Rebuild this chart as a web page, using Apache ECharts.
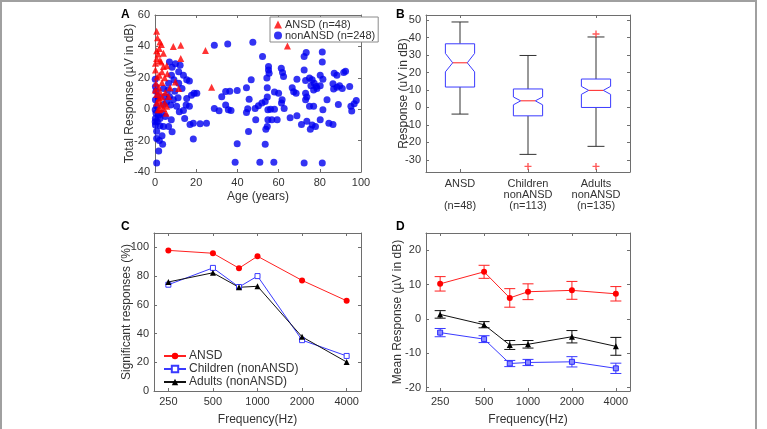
<!DOCTYPE html>
<html>
<head>
<meta charset="utf-8">
<script src="https://cdn.jsdelivr.net/npm/echarts@6/dist/echarts.min.js"></script>
<style>
    html, body { margin: 0; padding: 0; background: #fff; }
    #main { width: 767px; height: 429px; }
</style>
</head>
<body>
<div id="main"></div>
<script>
// ---- panel A: age vs total response ----
var ansdPoints = [
    [0.8, 49.6], [2.4, 42.8], [3.1, 41.2], [2.1, 38.6], [0.8, 37.3], [1.5, 35.2], [0.8, 32.3], [2.4, 31.0],
    [4.1, 27.2], [5.7, 27.6], [3.4, 23.8], [2.1, 21.7], [4.7, 20.0], [3.4, 17.0], [1.8, 14.0], [7.3, 13.6],
    [2.4, 11.1], [0.8, 9.4], [3.4, 7.7], [2.1, 5.6], [4.7, 3.9], [4.1, 0.5], [2.4, -0.4], [5.4, -2.5],
    [9.9, 17.4], [8.9, 39.9], [12.5, 40.7], [12.5, 32.3], [11.5, 13.2], [24.5, 37.4], [27.5, 14.0], [64.3, 40.3],
    [0.5, 16.6], [0.2, 25.0], [5.0, 10.6], [6.6, 8.1], [0.8, 3.9], [1.5, -0.4], [0.2, 29.3], [4.1, 35.6],
    [0.1, 12.3], [2.1, 7.3], [5.7, 1.8], [1.2, 45.5], [3.0, 30.0], [1.0, 20.5], [2.8, 2.5], [6.0, 22.6]
];
var nonAnsdPoints = [
    [28.8, 40.7], [35.3, 41.6], [47.5, 42.6], [52.2, 33.5], [55.1, 27.2], [55.1, 25.0], [55.4, 22.9], [61.3, 26.1],
    [61.9, 23.3], [54.3, 19.8], [46.7, 18.7], [36.3, 11.5], [34.3, 11.3], [39.9, 11.9], [44.4, 13.6], [54.5, 13.6],
    [58.0, 10.9], [60.0, 10.2], [32.4, 7.9], [34.3, 2.6], [28.8, 0.5], [31.1, -1.0], [35.6, -0.4], [36.9, -0.8],
    [45.7, 6.4], [45.0, 0.3], [44.4, -2.1], [48.6, 0.5], [50.2, 2.2], [51.9, 3.9], [53.5, 4.9], [54.5, 7.7],
    [54.8, -0.4], [56.1, 0.0], [58.0, 0.0], [48.9, -6.7], [54.8, -6.7], [54.5, -11.0], [53.8, -12.7], [56.7, -6.7],
    [59.3, -6.7], [45.4, -14.2], [25.0, -8.9], [39.9, -22.0], [53.5, -22.4], [38.9, -33.8], [50.9, -33.8], [57.7, -33.8],
    [73.4, 36.1], [72.4, 33.5], [81.2, 36.5], [81.2, 30.1], [72.4, 25.0], [68.9, 19.1], [73.1, 18.3], [75.0, 19.8],
    [76.3, 18.7], [77.3, 16.6], [75.7, 14.9], [78.3, 14.5], [77.0, 12.3], [78.6, 13.2], [80.2, 14.9], [80.2, 21.7],
    [81.5, 19.1], [87.0, 22.9], [88.3, 21.6], [89.6, 14.9], [90.9, 13.2], [91.6, 23.3], [92.5, 24.2], [86.4, 16.2],
    [88.3, 14.0], [86.7, 12.8], [94.5, 14.5], [66.6, 13.6], [67.3, 11.1], [68.5, 10.2], [73.1, 10.2], [73.7, 7.7],
    [73.1, 6.0], [75.0, 1.8], [77.0, 1.8], [81.5, -0.4], [83.5, 6.0], [89.0, 3.0], [95.1, 1.8], [97.7, 5.6],
    [96.7, 3.4], [95.5, -1.2], [62.4, 20.8], [61.4, 3.9], [62.7, 0.5], [61.7, 6.0], [68.9, -4.2], [65.6, -5.5],
    [73.7, -7.6], [71.1, -9.7], [76.3, -10.1], [77.9, -11.0], [75.4, -12.7], [80.2, -6.7], [84.4, -8.9], [86.4, -9.7],
    [72.4, -34.3], [81.2, -34.3],
    [7.0, 30.1], [8.3, 26.7], [9.9, 28.9], [12.2, 28.0], [11.5, 23.8], [8.0, 21.7], [13.8, 21.7], [15.4, 18.7],
    [16.7, 17.9], [9.2, 18.7], [6.6, 16.6], [11.5, 16.6], [13.1, 13.2], [9.6, 11.5], [19.0, 10.2], [17.7, 8.9],
    [20.3, 10.2], [7.0, 8.1], [8.9, 6.0], [11.2, 7.3], [15.4, 6.8], [15.1, 2.6], [16.7, 1.8], [7.6, 2.6],
    [10.5, 1.8], [11.8, -1.6], [13.8, -0.8], [14.4, -5.9], [18.6, -8.9], [17.0, -9.7], [21.9, -9.3], [7.9, -6.7],
    [6.6, -11.0], [8.3, -14.4], [4.1, -11.0], [3.4, -16.9], [0.8, -18.6], [2.1, -19.9], [3.7, -22.4], [1.8, -26.6],
    [18.6, -19.0], [0.8, -34.3], [0.2, 14.4], [0.5, 11.5], [1.5, 8.1], [0.2, 6.0], [0.8, 1.8], [0.1, -0.4],
    [0.5, -2.5], [1.8, -3.8], [0.2, -5.9], [1.1, -8.0], [2.4, -5.9], [3.4, -2.5], [5.0, -4.6], [4.1, 3.0],
    [5.7, 4.7], [4.7, 8.1], [6.3, 12.3], [4.1, 13.2], [0.1, 19.1], [0.2, -10.1], [2.4, -10.5], [0.8, -14.0], [0.1, -8.0]
];
var ageTicks = [0, 20, 40, 60, 80, 100];
var totalTicks = [-40, -20, 0, 20, 40, 60];

// ---- panel B: notched box plots ----
var boxGroups = ['ANSD\n\n(n=48)', 'Children\nnonANSD\n(n=113)', 'Adults\nnonANSD\n(n=135)'];
// low whisker, q1, notch low, median, notch high, q3, high whisker
var boxAnsd = [-3.8, 11.7, 20.4, 25.6, 31.0, 36.5, 49.0];
var boxChildren = [-26.9, -4.8, 1.5, 3.8, 6.0, 10.6, 29.8];
var boxAdults = [-22.3, 0.0, 7.5, 9.8, 12.1, 16.3, 40.4];
var boxOutliers = [[1, -33.8], [2, 42.1], [2, -33.8]];
var respTicks = [-30, -20, -10, 0, 10, 20, 30, 40, 50];

// ---- panel C/D: frequency ----
var freqs = [250, 500, 750, 1000, 2000, 4000];
var freqTicks = [250, 500, 1000, 2000, 4000];
var sigAnsd = [97.9, 95.9, 85.5, 93.8, 77.0, 62.8];
var sigChildren = [74.0, 85.7, 72.4, 80.0, 35.4, 24.4];
var sigAdults = [75.9, 82.3, 72.2, 72.9, 37.7, 20.2];
var sigTicks = [0, 20, 40, 60, 80, 100];

var meanAnsd = [10.2, 13.7, 6.1, 7.9, 8.3, 7.3];
var errAnsd = [2.1, 1.9, 2.7, 2.3, 2.6, 2.1];
var meanChildren = [-4.0, -5.9, -13.0, -12.7, -12.5, -14.4];
var errChildren = [1.2, 1.0, 0.9, 0.9, 1.5, 1.5];
var meanAdults = [1.3, -1.7, -7.6, -7.4, -5.2, -8.0];
var errAdults = [1.1, 0.9, 1.3, 1.1, 1.8, 2.6];
var meanTicks = [-20, -10, 0, 10, 20];

var axisColor = '#6e6e6e';
var textColor = '#333';
var fontName = 'Liberation Sans, Arial, sans-serif';

var log2 = function (f) { return Math.log(f) / Math.LN2; };
var freqFmt = function (v) { return String(Math.round(Math.pow(2, v))); };
var fMin = log2(200), fMax = log2(5000);

function valueAxis(grid, pos, min, max, ticks, mirror, extra, fmt) {
    var ax = {
        type: 'value', gridIndex: grid, position: pos, min: min, max: max,
        axisLine: { show: true, onZero: false, lineStyle: { color: axisColor, width: 1 } },
        axisTick: { show: true, inside: true, length: 3, customValues: ticks, lineStyle: { color: axisColor } },
        axisLabel: { show: !mirror, customValues: ticks, color: textColor, fontSize: 11, fontFamily: fontName, margin: 5 },
        splitLine: { show: false }
    };
    if (fmt) ax.axisLabel.formatter = fmt;
    if (extra) {
        for (var k in extra) ax[k] = extra[k];
    }
    return ax;
}

function nameOpts(name, gap) {
    return {
        name: name, nameLocation: 'middle', nameGap: gap, nameMoveOverlap: false,
        nameTextStyle: { color: textColor, fontSize: 12, fontFamily: fontName }
    };
}

function renderBox(params, api) {
    var i = api.value(0);
    var c = function (k) { return api.coord([i, api.value(k)]); };
    var band = api.size([1, 0])[0];
    var hw = band * 0.215, nw = hw * 0.5, cw = hw * 0.58;
    var lo = c(1), q1 = c(2), nl = c(3), md = c(4), nh = c(5), q3 = c(6), hi = c(7);
    var x = md[0];
    var dark = { stroke: '#333', lineWidth: 1, fill: null };
    return {
        type: 'group',
        children: [
            { type: 'line', shape: { x1: x, y1: hi[1], x2: x, y2: q3[1] }, style: dark },
            { type: 'line', shape: { x1: x, y1: q1[1], x2: x, y2: lo[1] }, style: dark },
            { type: 'line', shape: { x1: x - cw, y1: hi[1], x2: x + cw, y2: hi[1] }, style: dark },
            { type: 'line', shape: { x1: x - cw, y1: lo[1], x2: x + cw, y2: lo[1] }, style: dark },
            {
                type: 'polygon',
                shape: {
                    points: [
                        [x - hw, q1[1]], [x - hw, nl[1]], [x - nw, md[1]], [x - hw, nh[1]], [x - hw, q3[1]],
                        [x + hw, q3[1]], [x + hw, nh[1]], [x + nw, md[1]], [x + hw, nl[1]], [x + hw, q1[1]]
                    ]
                },
                style: { stroke: '#3a3aff', lineWidth: 1, fill: '#fff' }
            },
            { type: 'line', shape: { x1: x - nw, y1: md[1], x2: x + nw, y2: md[1] }, style: { stroke: '#ff2020', lineWidth: 1 } }
        ]
    };
}

function renderErr(params, api) {
    var x = api.value(0), m = api.value(1), e = api.value(2);
    var top = api.coord([x, m + e]), bot = api.coord([x, m - e]);
    var cap = 5.5;
    var st = { stroke: api.visual('color'), lineWidth: 1 };
    return {
        type: 'group',
        children: [
            { type: 'line', shape: { x1: top[0], y1: top[1], x2: bot[0], y2: bot[1] }, style: st },
            { type: 'line', shape: { x1: top[0] - cap, y1: top[1], x2: top[0] + cap, y2: top[1] }, style: st },
            { type: 'line', shape: { x1: bot[0] - cap, y1: bot[1], x2: bot[0] + cap, y2: bot[1] }, style: st }
        ]
    };
}

function freqData(vals) {
    return freqs.map(function (f, i) { return [log2(f), vals[i]]; });
}
function errData(vals, errs) {
    return freqs.map(function (f, i) { return [log2(f), vals[i], errs[i]]; });
}

var plusPath = 'path://M4,0h2v4h4v2h-4v4h-2v-4h-4v-2h4z';
var freqTickVals = freqTicks.map(log2);

var chart = echarts.init(document.getElementById('main'));

var option = {
    backgroundColor: '#fff',
    animation: false,
    textStyle: { fontFamily: fontName },
    grid: [
        { left: 155, top: 15, width: 206, height: 157 },
        { left: 426, top: 15, width: 204, height: 157 },
        { left: 154, top: 233, width: 207, height: 158 },
        { left: 426, top: 233, width: 204, height: 158 }
    ],
    xAxis: [
        valueAxis(0, 'bottom', 0, 100, ageTicks, false, nameOpts('Age (years)', 19)),
        valueAxis(0, 'top', 0, 100, ageTicks, true),
        {
            type: 'category', gridIndex: 1, position: 'bottom', data: boxGroups,
            axisLine: { show: true, onZero: false, lineStyle: { color: axisColor } },
            axisTick: { show: true, inside: true, length: 3, alignWithLabel: true, lineStyle: { color: axisColor } },
            axisLabel: { color: textColor, fontSize: 11, fontFamily: fontName, lineHeight: 11, margin: 6, interval: 0 },
            splitLine: { show: false }
        },
        {
            type: 'category', gridIndex: 1, position: 'top', data: boxGroups,
            axisLine: { show: true, onZero: false, lineStyle: { color: axisColor } },
            axisTick: { show: true, inside: true, length: 3, alignWithLabel: true, lineStyle: { color: axisColor } },
            axisLabel: { show: false },
            splitLine: { show: false }
        },
        valueAxis(2, 'bottom', fMin, fMax, freqTickVals, false, nameOpts('Frequency(Hz)', 23), freqFmt),
        valueAxis(2, 'top', fMin, fMax, freqTickVals, true),
        valueAxis(3, 'bottom', fMin, fMax, freqTickVals, false, nameOpts('Frequency(Hz)', 23), freqFmt),
        valueAxis(3, 'top', fMin, fMax, freqTickVals, true)
    ],
    yAxis: [
        valueAxis(0, 'left', -40, 60, totalTicks, false, nameOpts('Total Response (µV in dB)', 19)),
        valueAxis(0, 'right', -40, 60, totalTicks, true),
        valueAxis(1, 'left', -37, 53, respTicks, false, nameOpts('Response (uV in dB)', 16)),
        valueAxis(1, 'right', -37, 53, respTicks, true),
        valueAxis(2, 'left', 0, 110, sigTicks, false, nameOpts('Significant responses (%)', 21)),
        valueAxis(2, 'right', 0, 110, sigTicks, true),
        valueAxis(3, 'left', -21, 25, meanTicks, false, nameOpts('Mean Response (µV in dB)', 22)),
        valueAxis(3, 'right', -21, 25, meanTicks, true)
    ],
    legend: [
        {
            data: ['ANSD (n=48)', 'nonANSD (n=248)'],
            orient: 'vertical', left: 270, top: 17,
            padding: [2, 3, 1, 4], itemGap: 0, itemWidth: 8, itemHeight: 8,
            borderColor: '#8a8a8a', borderWidth: 1, backgroundColor: '#fff',
            textStyle: { color: textColor, fontSize: 11, fontFamily: fontName, padding: [0, 0, 0, -2] }
        },
        {
            data: ['ANSD', 'Children (nonANSD)', 'Adults (nonANSD)'],
            orient: 'vertical', left: 163, top: 350,
            padding: 0, itemGap: 1, itemWidth: 22, itemHeight: 8,
            textStyle: { color: textColor, fontSize: 12, fontFamily: fontName, padding: [0, 0, 0, -2] }
        }
    ],
    series: [
        {
            name: 'nonANSD (n=248)', type: 'scatter', xAxisIndex: 0, yAxisIndex: 0,
            symbol: 'circle', symbolSize: 7, itemStyle: { color: '#0000f0' },
            data: nonAnsdPoints
        },
        {
            name: 'ANSD (n=48)', type: 'scatter', xAxisIndex: 0, yAxisIndex: 0,
            symbol: 'triangle', symbolSize: 7, itemStyle: { color: '#ff0000' },
            data: ansdPoints
        },
        {
            name: 'boxes', type: 'custom', xAxisIndex: 2, yAxisIndex: 2,
            renderItem: renderBox,
            encode: { x: 0, y: [1, 2, 3, 4, 5, 6, 7] },
            data: [boxAnsd, boxChildren, boxAdults].map(function (s, i) { return [i].concat(s); })
        },
        {
            name: 'outliers', type: 'scatter', xAxisIndex: 2, yAxisIndex: 2,
            symbol: plusPath, symbolSize: 7, itemStyle: { color: '#ff3030' },
            data: boxOutliers
        },
        {
            name: 'ANSD', type: 'line', xAxisIndex: 4, yAxisIndex: 4,
            symbol: 'circle', symbolSize: 6, lineStyle: { color: '#ff2020', width: 1 },
            itemStyle: { color: '#ff0000' }, data: freqData(sigAnsd)
        },
        {
            name: 'Children (nonANSD)', type: 'line', xAxisIndex: 4, yAxisIndex: 4,
            symbol: 'rect', symbolSize: 5, lineStyle: { color: '#3a3aff', width: 1 },
            itemStyle: { color: '#fff', borderColor: '#3a3aff', borderWidth: 1 }, data: freqData(sigChildren)
        },
        {
            name: 'Adults (nonANSD)', type: 'line', xAxisIndex: 4, yAxisIndex: 4,
            symbol: 'triangle', symbolSize: 6, lineStyle: { color: '#111', width: 1 },
            itemStyle: { color: '#000' }, data: freqData(sigAdults)
        },
        {
            name: 'mean ANSD', type: 'line', xAxisIndex: 6, yAxisIndex: 6,
            symbol: 'circle', symbolSize: 6, lineStyle: { color: '#ff2020', width: 1 },
            itemStyle: { color: '#ff0000' }, data: freqData(meanAnsd)
        },
        {
            name: 'err ANSD', type: 'custom', xAxisIndex: 6, yAxisIndex: 6, renderItem: renderErr,
            itemStyle: { color: '#ff2020' }, encode: { x: 0, y: 1 }, data: errData(meanAnsd, errAnsd)
        },
        {
            name: 'mean Adults', type: 'line', xAxisIndex: 6, yAxisIndex: 6,
            symbol: 'triangle', symbolSize: 6, lineStyle: { color: '#111', width: 1 },
            itemStyle: { color: '#000' }, data: freqData(meanAdults)
        },
        {
            name: 'err Adults', type: 'custom', xAxisIndex: 6, yAxisIndex: 6, renderItem: renderErr,
            itemStyle: { color: '#111' }, encode: { x: 0, y: 1 }, data: errData(meanAdults, errAdults)
        },
        {
            name: 'mean Children', type: 'line', xAxisIndex: 6, yAxisIndex: 6,
            symbol: 'rect', symbolSize: 5, lineStyle: { color: '#3a3aff', width: 1 },
            itemStyle: { color: '#8a8aff', borderColor: '#2a2aff', borderWidth: 1 }, data: freqData(meanChildren)
        },
        {
            name: 'err Children', type: 'custom', xAxisIndex: 6, yAxisIndex: 6, renderItem: renderErr,
            itemStyle: { color: '#3a3aff' }, encode: { x: 0, y: 1 }, data: errData(meanChildren, errChildren)
        }
    ],
    graphic: [
        { type: 'rect', shape: { x: 1, y: 1, width: 755, height: 440 }, style: { fill: null, stroke: '#a0a0a0', lineWidth: 2 }, silent: true },
        { type: 'text', left: 121, top: 9, style: { text: 'A', font: 'bold 12px ' + fontName, fill: '#000' } },
        { type: 'text', left: 396, top: 9, style: { text: 'B', font: 'bold 12px ' + fontName, fill: '#000' } },
        { type: 'text', left: 121, top: 221, style: { text: 'C', font: 'bold 12px ' + fontName, fill: '#000' } },
        { type: 'text', left: 396, top: 221, style: { text: 'D', font: 'bold 12px ' + fontName, fill: '#000' } }
    ]
};

chart.setOption(option);
</script>
</body>
</html>
